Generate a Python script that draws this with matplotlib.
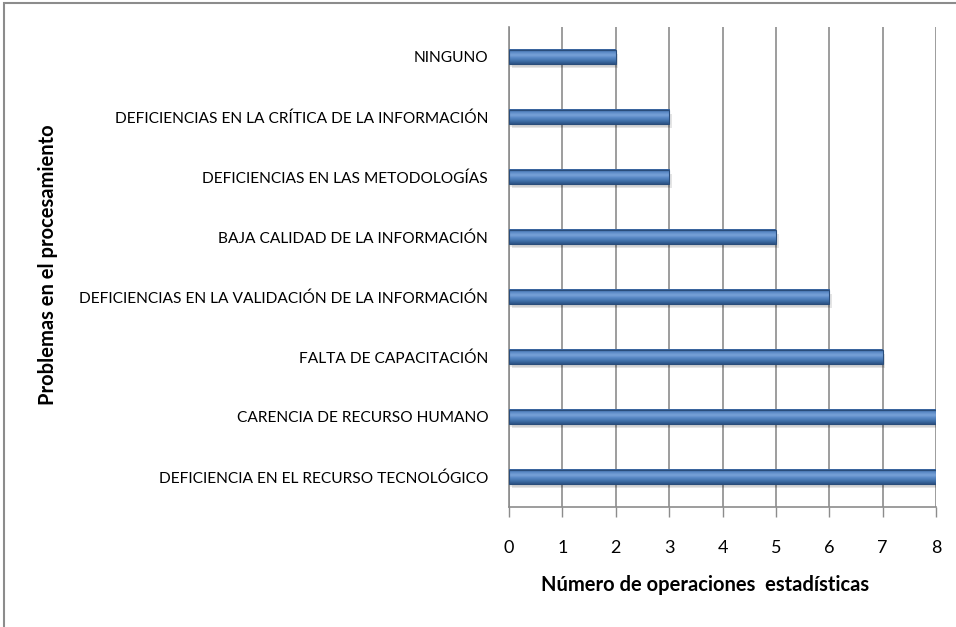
import matplotlib.pyplot as plt
import matplotlib.patches as mpatches
import numpy as np
from matplotlib.colors import LinearSegmentedColormap

plt.rcParams['font.family'] = ['Lato', 'DejaVu Sans']

categorias = [
    'DEFICIENCIA EN EL RECURSO TECNOLÓGICO',
    'CARENCIA DE RECURSO HUMANO',
    'FALTA DE CAPACITACIÓN',
    'DEFICIENCIAS EN LA VALIDACIÓN DE LA INFORMACIÓN',
    'BAJA CALIDAD DE LA INFORMACIÓN',
    'DEFICIENCIAS EN LAS METODOLOGÍAS',
    'DEFICIENCIAS EN LA CRÍTICA DE LA INFORMACIÓN',
    'NINGUNO',
]
valores = [8, 8, 7, 6, 5, 3, 3, 2]
x_ticks = [0, 1, 2, 3, 4, 5, 6, 7, 8]

fig = plt.figure(figsize=(9.56, 6.27), dpi=100)
ax = fig.add_axes([509 / 956, 1 - 507 / 627, 427 / 956, 480 / 627])

# borde del grafico
fig.patches.append(mpatches.Rectangle((4 / 956, -0.05), 1.2, 1 - 3 / 627 + 0.05,
                                      transform=fig.transFigure, fill=False,
                                      edgecolor='#8c8c8c', linewidth=1.5))

h = 0.24
azul = LinearSegmentedColormap.from_list(
    'azul', ['#2c5283', '#3f6fa8', '#5686c4', '#7aa3d8', '#5a89c6', '#35619a'])
grad = np.linspace(0, 1, 64).reshape(-1, 1)
y = np.arange(len(categorias))

# sombra
ax.barh(y - 0.07, valores, height=h, left=0.05, color='#000000', alpha=0.10,
        linewidth=0, zorder=2)
ax.barh(y - 0.04, valores, height=h, left=0.02, color='#000000', alpha=0.08,
        linewidth=0, zorder=2)
for yi, v in zip(y, valores):
    ax.imshow(grad, extent=(0, v, yi - h / 2, yi + h / 2), aspect='auto',
              cmap=azul, origin='lower', zorder=3, interpolation='bicubic')
ax.barh(y, valores, height=h, fill=False, edgecolor='#2a4d7a', linewidth=0.8,
        zorder=4)

ax.set_xlim(0, 8)
ax.set_ylim(-0.5, len(categorias) - 0.5)
ax.set_xticks(x_ticks)
ax.set_yticks(y)
ax.set_yticklabels(categorias, fontsize=11.2)
ax.tick_params(axis='y', length=0, pad=15)
ax.tick_params(axis='x', length=7, width=1, color='#8c8c8c', labelsize=13,
               pad=17)
ax.grid(axis='x', color='#8c8c8c', linewidth=1.2, zorder=0)
ax.set_axisbelow(True)
for s in ['top', 'right']:
    ax.spines[s].set_visible(False)
for s in ['left', 'bottom']:
    ax.spines[s].set_color('#8c8c8c')
    ax.spines[s].set_linewidth(1.2)

fig.text(705 / 956, 1 - 585 / 627, 'Número de operaciones  estadísticas',
         fontsize=14.5, fontweight='bold', ha='center', va='center')
fig.text(48 / 956, 1 - 265 / 627, 'Problemas en el procesamiento', rotation=90,
         fontsize=14.5, fontweight='bold', ha='center', va='center')

fig.savefig('out.png', dpi=100)
